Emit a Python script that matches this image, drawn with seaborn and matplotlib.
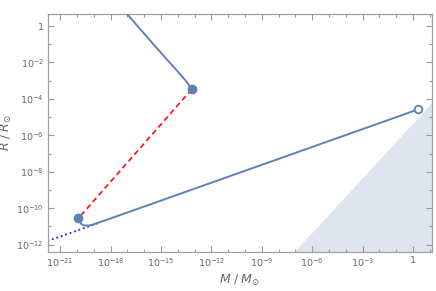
import numpy as np
import matplotlib
matplotlib.use("Agg")
import matplotlib.pyplot as plt
import matplotlib.ticker as mticker
import seaborn as sns

# Upper branch (log10 M, log10 R)
upper_logm = [-17.05, -15.5, -14.07, -13.47, -13.17]
upper_logr = [0.70, -0.95, -2.42, -3.06, -3.48]

# Lower branch: from the small dot down into the R ~ M^(1/3) line
lower_logm = [-19.91, -19.75, -19.60, -19.30, -19.00, -18.0, 0.29]
lower_logr = [-10.55, -10.85, -10.94, -10.95, -10.88, -10.56, -4.58]

# Red dashed connector between the two filled dots
link_logm = [-13.17, -19.91]
link_logr = [-3.48, -10.55]

# Blue dotted extension of the M^(1/3) relation
ext_logm = [-21.75, -18.6]
ext_logr = [-11.80, -10.77]

# Filled and open end points
dot_logm = [-13.17, -19.91]
dot_logr = [-3.48, -10.55]
open_logm = [0.29]
open_logr = [-4.58]

# Shaded region R < 2GM/c^2 (log10(R_s/R_sun) at 1 M_sun)
rs_offset = -5.37
shade_logm = [-8.0, 1.5]

xtick_exp = [-21, -18, -15, -12, -9, -6, -3, 0]
ytick_exp = [0, -2, -4, -6, -8, -10, -12]

BLUE = "#5e81b5"

sns.set_theme(style="ticks")
plt.rcParams["font.family"] = ["DejaVu Sans"]

fig = plt.figure(figsize=(4.36, 2.91), dpi=100)
ax = fig.add_axes([48 / 436, 39 / 291, 384 / 436, 238 / 291])
ax.set_xscale("log")
ax.set_yscale("log")
ax.set_xlim(10 ** -21.72, 10 ** 1.13)
ax.set_ylim(10 ** -12.4, 10 ** 0.66)

sm = 10.0 ** np.array(shade_logm)
ax.fill_between(sm, 1e-20, sm * 10 ** rs_offset, color="#dfe5ee", lw=0, zorder=0)

sns.lineplot(x=10.0 ** np.array(ext_logm), y=10.0 ** np.array(ext_logr), ax=ax,
             color="#1f1fe6", lw=1.3, linestyle=(0, (1, 1.6)), sort=False, zorder=2)
sns.lineplot(x=10.0 ** np.array(upper_logm), y=10.0 ** np.array(upper_logr), ax=ax,
             color=BLUE, lw=1.4, sort=False, zorder=3)
sns.lineplot(x=10.0 ** np.array(lower_logm), y=10.0 ** np.array(lower_logr), ax=ax,
             color=BLUE, lw=1.4, sort=False, zorder=3)
sns.lineplot(x=10.0 ** np.array(link_logm), y=10.0 ** np.array(link_logr), ax=ax,
             color="#ff1a1a", lw=1.3, linestyle=(0, (3, 2)), sort=False, zorder=3)

ax.plot(10.0 ** np.array(dot_logm), 10.0 ** np.array(dot_logr), "o", ms=6,
        color=BLUE, zorder=4)
ax.plot(10.0 ** np.array(open_logm), 10.0 ** np.array(open_logr), "o", ms=5.5,
        mfc="white", mec=BLUE, mew=1.3, zorder=4)

ax.xaxis.set_major_locator(mticker.FixedLocator([10.0 ** e for e in xtick_exp]))
ax.xaxis.set_minor_locator(mticker.FixedLocator([10.0 ** e for e in range(-22, 2)]))
ax.yaxis.set_major_locator(mticker.FixedLocator([10.0 ** e for e in ytick_exp]))
ax.yaxis.set_minor_locator(mticker.FixedLocator([10.0 ** e for e in range(-13, 2)]))
ax.xaxis.set_major_formatter(mticker.FixedFormatter(
    ["1" if e == 0 else rf"$10^{{{e}}}$" for e in xtick_exp]))
ax.yaxis.set_major_formatter(mticker.FixedFormatter(
    ["1" if e == 0 else rf"$10^{{{e}}}$" for e in ytick_exp]))
ax.xaxis.set_minor_formatter(mticker.NullFormatter())
ax.yaxis.set_minor_formatter(mticker.NullFormatter())

ax.tick_params(which="both", direction="in", top=True, right=True,
               color="#9a9a9a", labelsize=6.8, labelcolor="#666666", width=0.8)
ax.tick_params(which="major", length=4, pad=3)
ax.tick_params(which="minor", length=2.5)
for s in ax.spines.values():
    s.set_color("#a0a0a0")
    s.set_linewidth(0.9)

ax.set_xlabel(r"$M\;/\;M_{\odot}$", fontsize=9, color="#666666", labelpad=3)
ax.set_ylabel(r"$R\;/\;R_{\odot}$", fontsize=9, color="#666666")
ax.yaxis.set_label_coords(-0.088, 0.5)

fig.savefig("out.png", dpi=100)
